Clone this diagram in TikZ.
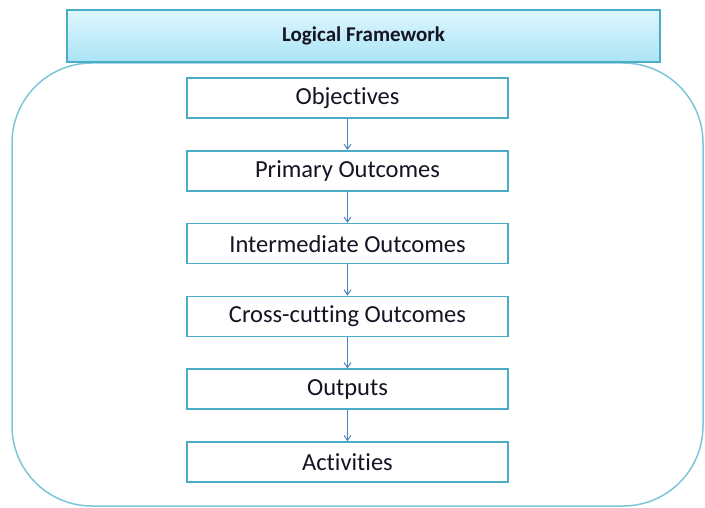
\documentclass[tikz,border=0pt]{standalone}
\usepackage{fontspec}
\setmainfont[Ligatures=NoCommon]{Carlito}
\usetikzlibrary{arrows.meta, positioning, shadows}

\definecolor{frameblue}{RGB}{75,172,198}
\definecolor{outerblue}{RGB}{125,198,218}
\definecolor{arrowblue}{RGB}{79,129,189}
\definecolor{headtop}{RGB}{222,246,253}
\definecolor{headbot}{RGB}{170,228,246}
\definecolor{inktext}{RGB}{20,20,35}

\begin{document}
\begin{tikzpicture}[
    x=1pt, y=-1pt,
    font=\fontsize{24.5}{28}\selectfont, text=inktext,
    stage/.style={draw=frameblue, line width=1.6pt, fill=white,
                  minimum width=321pt, minimum height=40pt, inner sep=0pt},
    header/.style={draw=frameblue, line width=1.4pt, top color=headtop, bottom color=headbot,
                   minimum width=593pt, minimum height=52pt, inner sep=0pt,
                   font=\fontsize{21}{25}\selectfont\bfseries,
                   drop shadow={shadow xshift=1pt, shadow yshift=-1.5pt, opacity=0.35}},
    arr/.style={-{Straight Barb[length=5pt, width=7pt]}, arrowblue, line width=1pt},
]
    \useasboundingbox (0,0) rectangle (705,508);

    %==================== outer frame ====================
    \draw[outerblue, line width=1.5pt, rounded corners=80pt] (12,63) rectangle (703,506);

    %==================== header ====================
    \node[header] (lf) at (363.5,36) {Logical Framework};

    %==================== chain of stages ====================
    \node[stage] (obj) at (347.5,98) {Objectives};
    \node[stage, below=31.2pt of obj] (prim) {Primary Outcomes};
    \node[stage, below=31.2pt of prim] (inter) {Intermediate Outcomes};
    \node[stage, below=31.2pt of inter] (cross) {Cross-cutting Outcomes};
    \node[stage, below=31.2pt of cross] (outp) {Outputs};
    \node[stage, below=31.2pt of outp] (act) {Activities};

    \draw[arr] (obj) -- (prim);
    \draw[arr] (prim) -- (inter);
    \draw[arr] (inter) -- (cross);
    \draw[arr] (cross) -- (outp);
    \draw[arr] (outp) -- (act);

\end{tikzpicture}
\end{document}
